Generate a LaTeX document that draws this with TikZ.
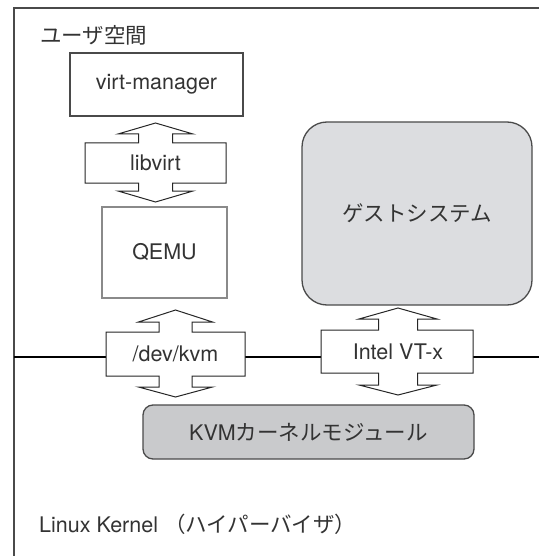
\documentclass[tikz,border=0pt]{standalone}
\usepackage{fontspec}
\setmainfont{TeX Gyre Heros}
\newfontfamily\jp{Noto Sans CJK JP}
\definecolor{guestgray}{HTML}{DCDDE0}
\definecolor{kmodgray}{HTML}{C9CACC}
\definecolor{edgegray}{HTML}{4A4A4A}
\definecolor{lightedge}{HTML}{8A8A8A}
\definecolor{textgray}{HTML}{333333}

\tikzset{
  label text/.style={text=textgray, font=\fontsize{21.5}{25}\selectfont, inner sep=0pt},
  box/.style={label text, draw=edgegray, line width=1.3pt},
  iface/.style={draw=black!85, line width=1pt, fill=white, line join=miter},
}

\begin{document}
\begin{tikzpicture}[x=1pt,y=-1pt]
   \useasboundingbox (0,0) rectangle (539,556);

   % frame and user/kernel border
   \draw[edgegray, line width=1.5pt] (14,556) -- (14,8) -- (539,8);
   \draw[black, line width=1.3pt] (14,357) -- (539,357);

   \node[label text, anchor=west] (userspace) at (40,35) {\jp ユーザ空間};
   \node[label text, anchor=west] (kernelspace) at (39,524)
        {Linux Kernel {\jp （ハイパーバイザ）}};

   % user side
   \node[box, minimum width=173pt, minimum height=63pt] (virtmgr) at (156.5,84.5)
        {virt-manager};
   \node[box, draw=lightedge, minimum width=125pt, minimum height=91pt] (qemu)
        at (164.5,252.5) {QEMU};
   \node[box, fill=guestgray, rounded corners=25pt, minimum width=230pt,
         minimum height=183pt] (guest) at (417,213.5) {\jp ゲストシステム};

   % kernel module
   \node[box, fill=kmodgray, rounded corners=10pt, minimum width=331pt,
         minimum height=54pt] (kmod) at (308.5,432) {KVM{\jp カーネルモジュール}};

   % libvirt
   \begin{scope}[shift={(155.5,163)}]
      \draw[iface] (0,-40) -- (37.5,-29) -- (17,-29) -- (17,-20) -- (70.5,-20) --
      (70.5,20) -- (17,20) -- (17,28) -- (37.5,28) -- (0,39) -- (-37.5,28) --
      (-17,28) -- (-17,20) -- (-70.5,20) -- (-70.5,-20) -- (-17,-20) --
      (-17,-29) -- (-37.5,-29) -- cycle;
      \node[label text] (libvirt) at (0,0) {libvirt};
   \end{scope}

   % /dev/kvm
   \begin{scope}[shift={(175.5,354)}]
      \draw[iface] (0,-44) -- (37,-32) -- (16.5,-32) -- (16.5,-22) -- (69.5,-22) --
      (69.5,22) -- (16.5,22) -- (16.5,33) -- (37,33) -- (0,43) -- (-37,33) --
      (-16.5,33) -- (-16.5,22) -- (-69.5,22) -- (-69.5,-22) -- (-16.5,-22) --
      (-16.5,-32) -- (-37,-32) -- cycle;
      \node[label text] (devkvm) at (0,0) {/dev/kvm};
   \end{scope}

   % Intel VT-x
   \begin{scope}[shift={(398,351.5)}]
      \draw[iface] (0,-43.5) -- (39,-32.5) -- (19.5,-32.5) -- (19.5,-21.5) --
      (75,-21.5) -- (75,21.5) -- (19.5,21.5) -- (19.5,33.5) -- (39,33.5) --
      (0,43.5) -- (-39,33.5) -- (-19.5,33.5) -- (-19.5,21.5) -- (-77,21.5) --
      (-77,-21.5) -- (-19.5,-21.5) -- (-19.5,-32.5) -- (-39,-32.5) -- cycle;
      \node[label text] (vtx) at (0,0) {Intel VT-x};
   \end{scope}
\end{tikzpicture}
\end{document}
